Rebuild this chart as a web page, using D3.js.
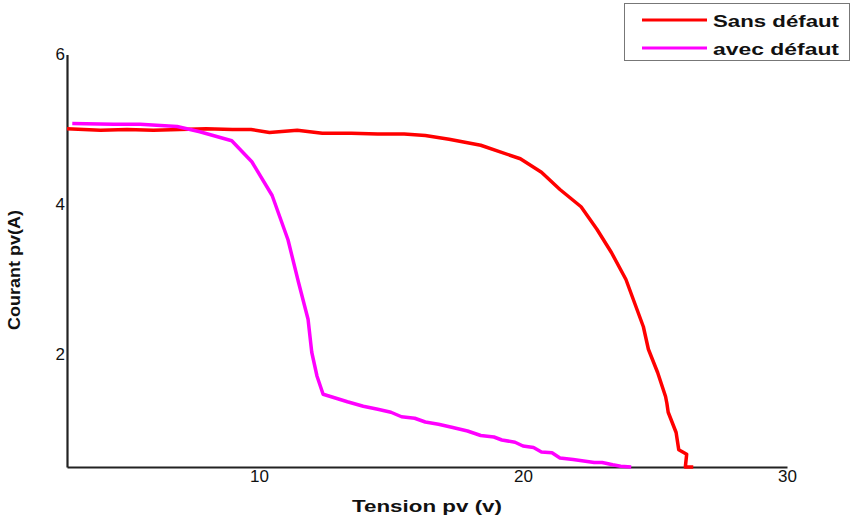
<!DOCTYPE html>
<html>
<head>
<meta charset="utf-8">
<script src="https://cdn.jsdelivr.net/npm/d3@7"></script>
<style>
  html, body { margin: 0; padding: 0; background: #fff; }
  svg { display: block; }
  text { font-family: "Liberation Sans", Arial, sans-serif; }
</style>
</head>
<body>
<svg id="chart" width="851" height="518"></svg>
<script>
// Series names
const seriesNames = ["Sans défaut", "avec défaut"];
// Tension (V) / Courant (A) – sans défaut
const sansV = [2.73, 4.0, 5.0, 6.0, 7.0, 8.0, 9.0, 9.7, 10.4, 11.45, 12.4, 13.5, 14.5, 15.5, 16.3, 17.2, 18.4, 19.9, 20.7, 21.4, 22.2, 22.8, 23.35, 23.9, 24.56, 24.75, 25.1, 25.4, 25.45, 25.5, 25.8, 25.9, 26.2, 26.15, 26.45];
const sansI = [5.01, 4.99, 5.0, 4.99, 5.0, 5.01, 5.0, 5.0, 4.96, 4.99, 4.95, 4.95, 4.94, 4.94, 4.92, 4.87, 4.79, 4.61, 4.43, 4.2, 3.97, 3.67, 3.36, 3.0, 2.37, 2.07, 1.76, 1.44, 1.35, 1.23, 0.96, 0.73, 0.67, 0.5, 0.5];
// Tension (V) / Courant (A) – avec défaut
const avecV = [2.93, 4.5, 5.5, 6.9, 7.76, 8.97, 9.73, 10.5, 11.1, 11.5, 11.86, 12.0, 12.2, 12.43, 12.8, 13.35, 13.95, 14.5, 15.0, 15.4, 15.9, 16.3, 16.8, 17.3, 17.9, 18.4, 18.9, 19.2, 19.7, 20.0, 20.4, 20.7, 21.1, 21.4, 21.9, 22.3, 22.7, 23.0, 23.4, 23.7, 24.1];
const avecI = [5.08, 5.07, 5.07, 5.04, 4.97, 4.85, 4.57, 4.12, 3.53, 2.96, 2.47, 2.03, 1.71, 1.47, 1.43, 1.37, 1.31, 1.27, 1.23, 1.17, 1.15, 1.1, 1.07, 1.03, 0.98, 0.92, 0.9, 0.86, 0.83, 0.78, 0.76, 0.7, 0.69, 0.62, 0.6, 0.58, 0.56, 0.56, 0.53, 0.51, 0.5];
// Tick labels
const xTicks = [10, 20, 30];
const yTicks = [2, 4, 6];
const seriesColors = ["#ff0000", "#ff00ff"];

const svg = d3.select("#chart");
const x = d3.scaleLinear().domain([2.73, 30]).range([67, 787]);
const y = d3.scaleLinear().domain([0.5, 6]).range([467, 54.5]);

// Axes
const xAxis = d3.axisBottom(x).tickValues(xTicks).tickFormat(d3.format("d")).tickSize(0).tickPadding(3);
const yAxis = d3.axisLeft(y).tickValues(yTicks).tickFormat(d3.format("d")).tickSize(0).tickPadding(2);

const gx = svg.append("g").attr("transform", `translate(0,${y(0.5)})`).call(xAxis);
gx.select(".domain").attr("stroke", "#222").attr("stroke-width", 2.2);
gx.selectAll("text").attr("font-size", 17).attr("fill", "#111")
  .attr("font-family", "Liberation Sans, Arial, sans-serif");

const gy = svg.append("g").attr("transform", `translate(${x(2.73)},0)`).call(yAxis);
gy.select(".domain").attr("stroke", "#222").attr("stroke-width", 2.2);
gy.selectAll("text").attr("font-size", 17).attr("fill", "#111")
  .attr("font-family", "Liberation Sans, Arial, sans-serif");

// Lines
const line = d3.line().x(d => x(d[0])).y(d => y(d[1]));
const series = [
  d3.zip(sansV, sansI),
  d3.zip(avecV, avecI)
];
series.forEach((s, i) => {
  svg.append("path").datum(s)
    .attr("d", line)
    .attr("fill", "none")
    .attr("stroke", seriesColors[i])
    .attr("stroke-width", 3.5)
    .attr("stroke-linejoin", "round");
});

// Axis titles
svg.append("text")
  .attr("x", 427).attr("y", 512)
  .attr("text-anchor", "middle")
  .attr("font-size", 17).attr("font-weight", "bold").attr("fill", "#111")
  .attr("textLength", 150).attr("lengthAdjust", "spacingAndGlyphs")
  .text("Tension pv (v)");

svg.append("text")
  .attr("transform", "translate(20,270) rotate(-90)")
  .attr("text-anchor", "middle")
  .attr("font-size", 17).attr("font-weight", "bold").attr("fill", "#111")
  .attr("textLength", 120).attr("lengthAdjust", "spacingAndGlyphs")
  .text("Courant pv(A)");

// Legend
const lg = svg.append("g");
lg.append("rect").attr("x", 624.5).attr("y", 3.5).attr("width", 225).attr("height", 57)
  .attr("fill", "#fff").attr("stroke", "#777").attr("stroke-width", 1);
seriesNames.forEach((n, i) => {
  const yy = 20 + i * 28;
  lg.append("line").attr("x1", 642).attr("x2", 707).attr("y1", yy).attr("y2", yy)
    .attr("stroke", seriesColors[i]).attr("stroke-width", 3);
  lg.append("text").attr("x", 713).attr("y", yy + 7)
    .attr("font-size", 17).attr("font-weight", "bold").attr("fill", "#111")
    .attr("textLength", 126).attr("lengthAdjust", "spacingAndGlyphs")
    .text(n);
});
</script>
</body>
</html>
